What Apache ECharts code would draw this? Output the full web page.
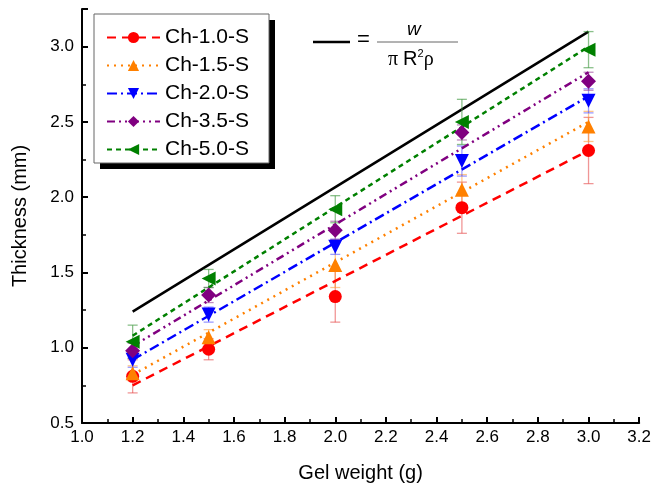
<!DOCTYPE html>
<html>
<head>
<meta charset="utf-8">
<script src="https://cdn.jsdelivr.net/npm/echarts@6/dist/echarts.min.js"></script>
<style>html,body{margin:0;padding:0;background:#fff;}#chart{width:654px;height:490px;}</style>
</head>
<body>
<div id="chart"></div>
<script>
// ---- data ----
const gelWeight = [1.2, 1.5, 2.0, 2.5, 3.0];
const seriesNames = ['Ch-1.0-S', 'Ch-1.5-S', 'Ch-2.0-S', 'Ch-3.5-S', 'Ch-5.0-S'];
const ch10 = [0.81, 0.99, 1.34, 1.93, 2.31];
const ch15 = [0.83, 1.07, 1.55, 2.05, 2.47];
const ch20 = [0.92, 1.22, 1.67, 2.24, 2.64];
const ch35 = [0.98, 1.35, 1.78, 2.43, 2.77];
const ch50 = [1.04, 1.46, 1.92, 2.50, 2.98];
const err10 = [0.11, 0.07, 0.17, 0.17, 0.22];
const err15 = [0.05, 0.05, 0.15, 0.10, 0.10];
const err20 = [0.05, 0.05, 0.05, 0.10, 0.08];
const err35 = [0.05, 0.05, 0.06, 0.05, 0.06];
const err50 = [0.11, 0.06, 0.09, 0.15, 0.12];
// fitted-line end points at x = 1.2 and 3.0
const fitX = [1.2, 3.0];
const fit10 = [0.75, 2.31];
const fit15 = [0.82, 2.50];
const fit20 = [0.92, 2.67];
const fit35 = [1.01, 2.83];
const fit50 = [1.08, 3.00];
const theory = [1.24, 3.10];
const xTicks = [1.0, 1.2, 1.4, 1.6, 1.8, 2.0, 2.2, 2.4, 2.6, 2.8, 3.0, 3.2];
const yTicks = [0.5, 1.0, 1.5, 2.0, 2.5, 3.0];

const values = [ch10, ch15, ch20, ch35, ch50];
const errs = [err10, err15, err20, err35, err50];
const fits = [fit10, fit15, fit20, fit35, fit50];
const colors = ['#ff0000', '#ff8000', '#0000ff', '#800080', '#008000'];
const errColors = ['rgba(230,80,80,0.6)', 'rgba(255,160,60,0.6)', 'rgba(90,90,255,0.6)', 'rgba(150,60,150,0.6)', 'rgba(60,150,60,0.6)'];
const symbols = ['circle', 'triangle', 'triangle', 'diamond', 'triangle'];
const rotates = [0, 0, 180, 0, 90];
const sizes = [13, 14, 14, 15, 14];
const dashes = [[9, 6], [2, 5], [10, 4, 2, 4], [8, 4, 2, 4, 2, 4], [5, 4]];

const chart = echarts.init(document.getElementById('chart'), null, {renderer: 'canvas'});
const series = [];

series.push({
  name: 'theory', type: 'line', symbol: 'none', silent: true,
  data: fitX.map((x, i) => [x, theory[i]]),
  lineStyle: {color: '#000', width: 2.5}, z: 2
});

for (let s = 0; s < 5; s++) {
  series.push({
    name: seriesNames[s], type: 'line', showSymbol: false,
    symbol: symbols[s], symbolRotate: rotates[s], symbolSize: sizes[s],
    data: fitX.map((x, i) => [x, fits[s][i]]),
    itemStyle: {color: colors[s]},
    lineStyle: {color: colors[s], width: 2.5, type: dashes[s]},
    z: 4
  });
  series.push({
    name: seriesNames[s] + ' err', type: 'custom',
    data: gelWeight.map((x, i) => [x, values[s][i], errs[s][i]]),
    renderItem: (params, api) => {
      const x = api.value(0), y = api.value(1), e = api.value(2);
      const t = api.coord([x, y + e]), b = api.coord([x, y - e]);
      const hw = 5;
      const st = {stroke: errColors[s], lineWidth: 1.3};
      return {type: 'group', children: [
        {type: 'line', shape: {x1: t[0], y1: t[1], x2: b[0], y2: b[1]}, style: st},
        {type: 'line', shape: {x1: t[0] - hw, y1: t[1], x2: t[0] + hw, y2: t[1]}, style: st},
        {type: 'line', shape: {x1: b[0] - hw, y1: b[1], x2: b[0] + hw, y2: b[1]}, style: st}
      ]};
    },
    z: 3
  });
  series.push({
    name: seriesNames[s] + ' pts', type: 'scatter',
    symbol: symbols[s], symbolRotate: rotates[s], symbolSize: sizes[s],
    data: gelWeight.map((x, i) => [x, values[s][i]]),
    itemStyle: {color: colors[s], opacity: 1},
    z: 5
  });
}

const FONT = 'Liberation Sans, Arial, sans-serif';
const option = {
  animation: false,
  backgroundColor: '#fff',
  textStyle: {fontFamily: FONT},
  grid: {left: 82, right: 13, top: 9, bottom: 67},
  legend: {
    data: seriesNames,
    orient: 'vertical', left: 96, top: 15,
    padding: [12, 10, 12, 10],
    itemWidth: 53, itemHeight: 14, itemGap: 7,
    backgroundColor: 'transparent', borderWidth: 0,
    textStyle: {fontSize: 21, color: '#000', fontFamily: FONT},
    selectedMode: false, z: 10
  },
  xAxis: {
    type: 'value', min: xTicks[0], max: xTicks[xTicks.length - 1], interval: 0.2,
    name: 'Gel weight (g)', nameLocation: 'middle', nameGap: 40,
    nameTextStyle: {fontSize: 20, color: '#000'},
    axisLine: {onZero: false, lineStyle: {color: '#000', width: 2}},
    axisTick: {inside: true, length: 6, lineStyle: {color: '#000', width: 2}},
    minorTick: {show: true, splitNumber: 2, length: 4, lineStyle: {color: '#000', width: 1.5}},
    axisLabel: {fontSize: 17, color: '#000', margin: 6, formatter: v => v.toFixed(1)},
    splitLine: {show: false}
  },
  yAxis: {
    type: 'value', min: yTicks[0], max: 3.25, interval: 0.5,
    name: 'Thickness (mm)', nameLocation: 'middle', nameGap: 52,
    nameTextStyle: {fontSize: 20, color: '#000'},
    axisLine: {onZero: false, lineStyle: {color: '#000', width: 2}},
    axisTick: {inside: true, length: 6, lineStyle: {color: '#000', width: 2}},
    minorTick: {show: true, splitNumber: 2, length: 4, lineStyle: {color: '#000', width: 1.5}},
    axisLabel: {fontSize: 17, color: '#000', margin: 8, showMaxLabel: false, formatter: v => v.toFixed(1)},
    splitLine: {show: false}
  },
  graphic: [
    // legend box with solid drop shadow
    {type: 'rect', z: 1, shape: {x: 100, y: 20, width: 175, height: 149}, style: {fill: '#000'}},
    {type: 'rect', z: 2, shape: {x: 94, y: 14, width: 175, height: 149}, style: {fill: '#fff', stroke: '#666', lineWidth: 1}},
    // formula
    {type: 'line', shape: {x1: 313, y1: 42, x2: 350, y2: 42}, style: {stroke: '#000', lineWidth: 2.5}},
    {type: 'text', left: 357, top: 29, style: {text: '=', fontSize: 22, fill: '#000', fontFamily: FONT}},
    {type: 'line', shape: {x1: 377, y1: 42, x2: 458, y2: 42}, style: {stroke: '#666', lineWidth: 1}},
    {type: 'text', left: 407, top: 20, style: {text: 'w', fontSize: 19, fontStyle: 'italic', fill: '#000', fontFamily: FONT}},
    {type: 'text', left: 388, top: 48, style: {
      rich: {
        a: {fontSize: 20, fontFamily: 'Liberation Serif, serif', fill: '#000'},
        b: {fontSize: 20, fontFamily: FONT, fill: '#000'},
        sup: {fontSize: 11, verticalAlign: 'top', padding: [0, 0, 12, 0], fill: '#000', fontFamily: FONT}
      },
      text: '{a|π }{b|R}{sup|2}{a|ρ}'
    }}
  ],
  series: series
};
chart.setOption(option);
</script>
</body>
</html>
